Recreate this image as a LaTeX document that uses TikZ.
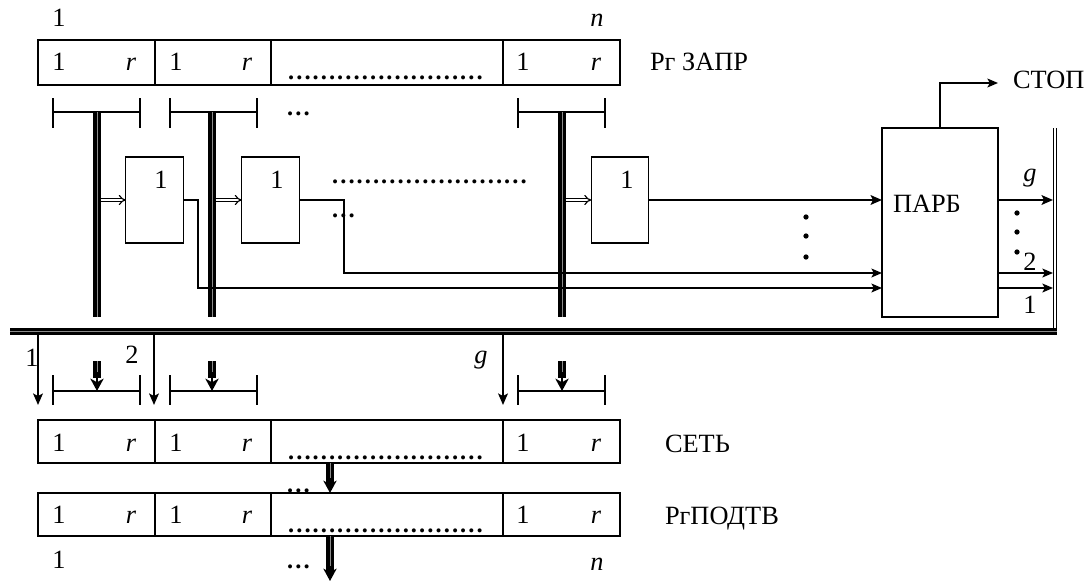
\documentclass[tikz,border=0pt]{standalone}
\usepackage{fontspec}
\setmainfont{Liberation Serif}
\usetikzlibrary{arrows.meta}
\newcommand{\dotsrow}{{\fontsize{14}{16}\selectfont\bfseries ……………………}}
\newcommand{\dotsone}{{\fontsize{14}{16}\selectfont\bfseries …}}
\begin{document}
\begin{tikzpicture}[x=0.02cm,y=-0.02cm,
  font=\fontsize{15}{17}\selectfont,
  cell/.style={draw, line width=0.65pt, inner sep=0pt, outer sep=0pt},
  lbl/.style={anchor=base, inner sep=0pt, outer sep=0pt},
  lblw/.style={anchor=base west, inner sep=0pt, outer sep=0pt},
  bus/.style={line width=1.9pt, double=black!45, double distance=0.3pt},
  hbus/.style={line width=2pt, double=black!45, double distance=0.3pt},
  rbus/.style={line width=1pt, double distance=0.6pt},
  brk/.style={line width=0.65pt},
  imp/.style={line width=0.65pt, double distance=1.3pt, -{Implies}},
  sig/.style={line width=1pt, -{Stealth[length=6pt,width=5pt,inset=1.3pt]}},
  thk/.style={line width=1.7pt, -{Stealth[length=6.5pt,width=5.5pt,inset=1.4pt]}},
  dshaft/.style={line width=1.9pt, double=black!45, double distance=0.4pt},
  dtip/.style={line width=1.3pt, -{Stealth[length=7pt,width=7.5pt,inset=2pt]}},
  dotc/.style={fill=black},
]
\useasboundingbox (0,0) rectangle (1087,581);

% ---------- registers ----------
\foreach \rg/\yc/\yb/\yd/\hh in {zapr/62.5/71/80/0.9cm, set/441.5/451/459/0.86cm, podt/514.5/523/532/0.86cm}{
  \node[cell, minimum width=2.34cm, minimum height=\hh] (\rg c1) at (96.5,\yc) {};
  \node[cell, minimum width=2.32cm, minimum height=\hh] (\rg c2) at (213,\yc) {};
  \node[cell, minimum width=4.64cm, minimum height=\hh] (\rg c3) at (387,\yc) {};
  \node[cell, minimum width=2.34cm, minimum height=\hh] (\rg c4) at (561.5,\yc) {};
  \node[lbl] (\rg a1) at (59,\yb) {1};
  \node[lbl] (\rg b1) at (131,\yb) {\textit{r}};
  \node[lbl] (\rg a2) at (176,\yb) {1};
  \node[lbl] (\rg b2) at (247,\yb) {\textit{r}};
  \node[lbl] (\rg a4) at (523,\yb) {1};
  \node[lbl] (\rg b4) at (596,\yb) {\textit{r}};
  \node[lblw] (\rg d3) at (287,\yd) {\dotsrow};
}
\node[lblw] (nzapr) at (650,71) {Рг ЗАПР};
\node[lblw] (nset) at (665,452) {СЕТЬ};
\node[lblw] (npodt) at (665,524) {РгПОДТВ};
\node[lbl] (top1) at (59,27) {1};
\node[lbl] (topn) at (597,27) {\textit{n}};
\node[lbl] (bot1) at (59,568) {1};
\node[lbl] (botn) at (597,570) {\textit{n}};
\node[lblw] (botdots) at (286,568) {\dotsone};
\node[lblw] (middots) at (286,492) {\dotsone};

% ---------- brackets and buses ----------
\foreach \i/\xa/\xm/\xb in {1/53/97/140, 2/170/212/257, 3/518/562/605}{
  \coordinate (tb\i) at (\xm,112);
  \coordinate (te\i) at (\xm,317);
  \coordinate (lb\i) at (\xm,391);
  \coordinate (ls\i) at (\xm,361);
  \draw[brk] (\xa,98) -- (\xa,128) (\xa,112) -- (\xb,112) (\xb,98) -- (\xb,128);
  \draw[brk] (\xa,375) -- (\xa,405) (\xa,391) -- (\xb,391) (\xb,375) -- (\xb,405);
  \draw[bus] (tb\i) -- (te\i);
  \draw[dshaft] (ls\i) -- (\xm,378);
  \draw[dtip] (\xm,372) -- (lb\i);
}
\node[lblw] (tdots) at (286,115) {\dotsone};

% ---------- small boxes ----------
\foreach \i/\xc/\xl in {1/154.5/161, 2/270.5/277, 3/620/627}{
  \node[cell, minimum width=1.15cm, minimum height=1.72cm] (k\i) at (\xc,200) {};
  \node[lbl] (k\i t) at (\xl,188) {1};
}
\coordinate (s1) at (100.5,200);
\coordinate (s2) at (215.5,200);
\coordinate (s3) at (565.5,200);
\draw[imp] (s1) -- (k1.west);
\draw[imp] (s2) -- (k2.west);
\draw[imp] (s3) -- (k3.west);
\node[lblw] (kdots) at (331,183) {\dotsrow};
\node[lblw] (k2dots) at (331,217) {\dotsone};

% ---------- PARB ----------
\node[cell, minimum width=2.32cm, minimum height=3.78cm] (parb) at (940,222.5) {};
\node[lblw] (parbt) at (893,212) {ПАРБ};
\coordinate (c1) at (198,288);
\coordinate (c2) at (344,273);
\draw[sig] (k1.east) -- (c1 |- k1.east) -- (c1) -- (parb.west |- c1);
\draw[sig] (k2.east) -- (c2 |- k2.east) -- (c2) -- (parb.west |- c2);
\draw[thk] (k3.east) -- (parb.west |- k3.east);
\foreach \yy in {217,236,257}{ \fill[dotc] (806,\yy) circle[radius=1.5pt]; }

% STOP
\coordinate (stop) at (998,83);
\draw[sig] (parb.north) -- (parb.north |- stop) -- (stop);
\node[lblw] (stopt) at (1013,89) {СТОП};

% right bus and outputs
\coordinate (rbt) at (1055,128);
\coordinate (rbb) at (1055,333);
\coordinate (rin) at (1053,0);
\draw[rbus] (rbt) -- (rbb);
\draw[thk] (parb.east |- k3.east) -- (rin |- k3.east);
\draw[sig] (parb.east |- c2) -- (rin |- c2);
\draw[sig] (parb.east |- c1) -- (rin |- c1);
\node[lbl] (og) at (1030,181) {\textit{g}};
\node[lbl] (o2) at (1030,270) {2};
\node[lbl] (o1) at (1030,313) {1};
\foreach \yy in {213,232,252}{ \fill[dotc] (1017,\yy) circle[radius=1.5pt]; }

% main horizontal bus
\coordinate (hl) at (10,331.5);
\coordinate (hr) at (1057,331.5);
\draw[hbus] (hl) -- (hr);

% taps from the bus
\foreach \i/\xx in {1/38, 2/154, 3/503}{
  \coordinate (tp\i) at (\xx,335);
  \coordinate (tq\i) at (\xx,405);
  \draw[line width=1.6pt, -{Stealth[length=6.5pt,width=5.5pt,inset=1.4pt]}] (tp\i) -- (tq\i);
}
\node[lbl] (t1) at (32,366) {1};
\node[lbl] (t2) at (132,363) {2};
\node[lbl] (tg) at (481,363) {\textit{g}};

% arrows between registers
\coordinate (da) at (330,463);
\coordinate (db) at (330,493);
\coordinate (dc) at (330,536);
\coordinate (dd) at (330,581);
\draw[dshaft] (da) -- (330,484);
\draw[dtip] (330,478) -- (db);
\draw[dshaft] (dc) -- (330,572);
\draw[dtip] (330,566) -- (dd);
\end{tikzpicture}
\end{document}
